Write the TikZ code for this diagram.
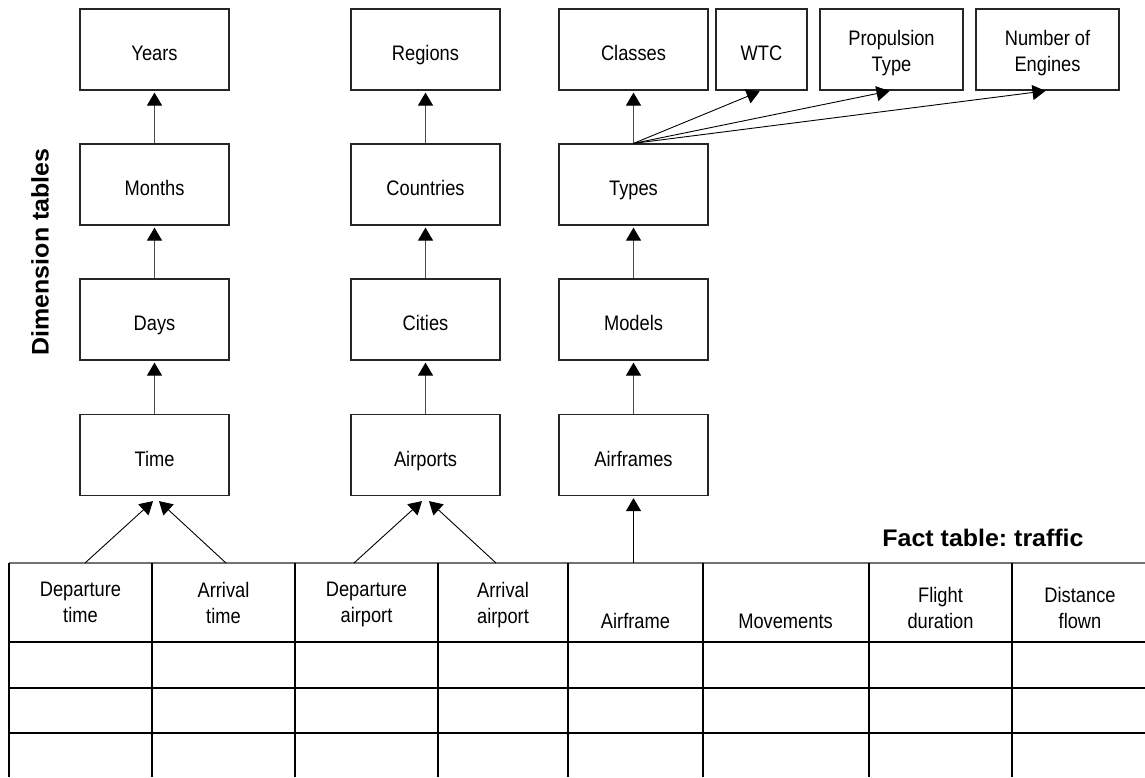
\documentclass[tikz,border=0pt]{standalone}
\usepackage{fontspec}
\usetikzlibrary{arrows.meta,calc}
\newfontfamily\boxfont[FakeStretch=0.87]{Liberation Sans}
\newfontfamily\titlefont[FakeStretch=1.04]{Liberation Sans}
% invisible strut that lowers the first line of two-line box labels
\newcommand\firstline{\rule{0pt}{21.5pt}}
\begin{document}
\begin{tikzpicture}[x=1pt,y=-1pt,
  boxtext/.style={font=\boxfont\fontsize{21}{26}\selectfont},
  dim/.style={boxtext,draw=black!85,line width=1.2pt,minimum width=149pt,minimum height=81pt,
    inner sep=0pt,text height=22pt,text depth=0pt},
  dimtwo/.style={boxtext,draw=black!85,line width=1.2pt,minimum width=149pt,minimum height=81pt,
    inner sep=0pt,align=center},
  head/.style={boxtext,inner sep=0pt,align=center,anchor=north},
  headone/.style={boxtext,inner sep=0pt,anchor=base},
  title/.style={inner sep=0pt,font=\titlefont\bfseries\fontsize{24}{28}\selectfont\frenchspacing},
  tip/.style={-{Triangle[length=13pt,width=15pt,color=black]}},
  up/.style={tip,draw=black!70,line width=1.2pt,shorten >=2pt},
  fan/.style={tip,draw=black,line width=0.9pt,shorten >=2pt},
  link/.style={tip,draw=black,line width=0.9pt},
  rowline/.style={draw=black,line width=2.4pt},
  colline/.style={draw=black,line width=2pt}]
\useasboundingbox (0,0) rectangle (1145,777);

% dimension hierarchies
\node[dim] (years)     at (154.5,49.5)  {Years};
\node[dim] (months)    at (154.5,184.5) {Months};
\node[dim] (days)      at (154.5,319.5) {Days};
\node[dim] (time)      at (154.5,455)   {Time};

\node[dim] (regions)   at (425.5,49.5)  {Regions};
\node[dim] (countries) at (425.5,184.5) {Countries};
\node[dim] (cities)    at (425.5,319.5) {Cities};
\node[dim] (airports)  at (425.5,455)   {Airports};

\node[dim] (classes)   at (633.5,49.5)  {Classes};
\node[dim] (types)     at (633.5,184.5) {Types};
\node[dim] (models)    at (633.5,319.5) {Models};
\node[dim] (airframes) at (633.5,455)   {Airframes};

\node[dim,minimum width=91pt]     (wtc)  at (761.5,49.5)  {WTC};
\node[dimtwo,minimum width=143pt] (prop) at (891.5,49.5)  {\firstline Propulsion\\Type};
\node[dimtwo,minimum width=143pt] (eng)  at (1047.5,49.5) {\firstline Number of\\Engines};

\draw[up] (months.north) -- (years.south);
\draw[up] (days.north) -- (months.south);
\draw[up] (time.north) -- (days.south);
\draw[up] (countries.north) -- (regions.south);
\draw[up] (cities.north) -- (countries.south);
\draw[up] (airports.north) -- (cities.south);
\draw[up] (types.north) -- (classes.south);
\draw[up] (models.north) -- (types.south);
\draw[up] (airframes.north) -- (models.south);

\draw[fan] (types.north) -- (wtc.south);
\draw[fan] (types.north) -- (prop.south);
\draw[fan] (types.north) -- (eng.south);

% labels
\node[title,rotate=90] (dimlabel) at (40,252) {Dimension tables};
\node[title,anchor=base] (factlabel) at (983,546) {Fact table: traffic};

% fact table grid
\coordinate (ftop) at (9,563);
\draw[draw=black!55,line width=1.8pt] (ftop) -- (1145,563);
\foreach \y in {642,688,733} \draw[rowline] (9,\y) -- (1145,\y);
\draw[draw=black,line width=1.5pt] (9,563) -- (9,777);
\foreach \x in {152,295,438,568,703,869,1012} \draw[colline] (\x,563) -- (\x,777);

% fact table header
\node[head] (dt)  at (80.5,582)  {Departure\\time};
\node[head] (at)  at (223.5,582) {Arrival\\time};
\node[head] (da)  at (366.5,582) {Departure\\airport};
\node[head] (aa)  at (503,582)   {Arrival\\airport};
\node[headone] (af) at (635.5,628) {Airframe};
\node[headone] (mv) at (785.5,628) {Movements};
\node[head] (fd)  at (940.5,587) {Flight\\duration};
\node[head] (df)  at (1080,587)  {Distance\\flown};

% foreign keys to dimensions
\draw[link] ($(dt.north |- ftop)+(4.5,0)$) -- ($(time.south)+(-1.5,5)$);
\draw[link] ($(at.north |- ftop)+(2.5,0)$) -- ($(time.south)+(4.5,5)$);
\draw[link] ($(da.north |- ftop)+(-12.5,0)$) -- ($(airports.south)+(-3.5,5)$);
\draw[link] ($(aa.north |- ftop)+(-7,0)$) -- ($(airports.south)+(3.5,5)$);
\draw[up,draw=black] (airframes.south |- ftop) -- (airframes.south);
\end{tikzpicture}
\end{document}
